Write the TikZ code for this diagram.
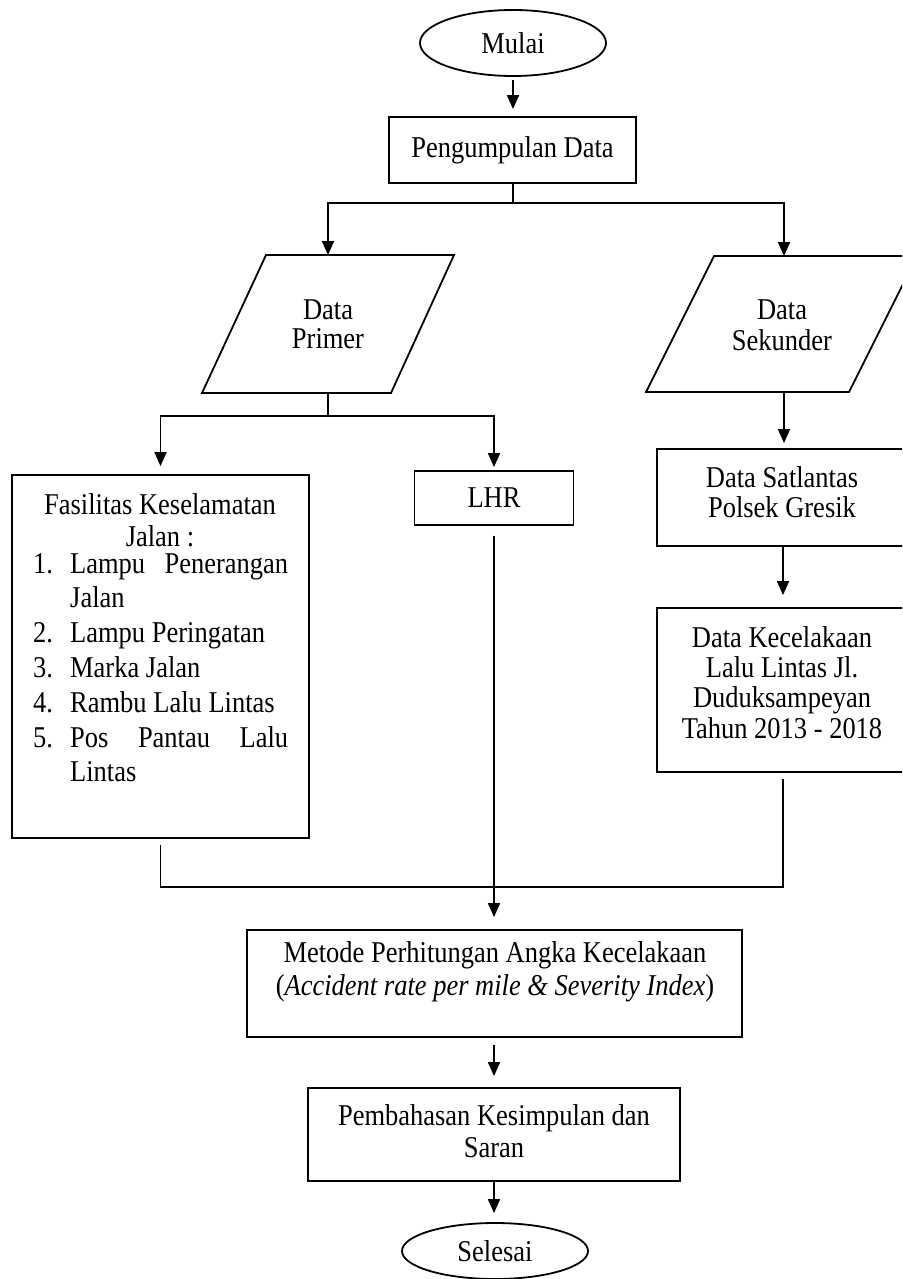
\documentclass[tikz,border=0pt]{standalone}
\usepackage{fontspec}
\setmainfont{Liberation Serif}[FakeStretch=0.877]
\usetikzlibrary{shapes.geometric,arrows.meta}
\begin{document}
\begin{tikzpicture}[x=1pt,y=-1pt,
  every node/.style={font=\fontsize{30.2}{30.5}\selectfont},
  boxnode/.style={draw, rectangle, inner sep=0pt, line width=1.8pt},
  ovalnode/.style={draw, ellipse, inner sep=0pt, line width=1.8pt},
  outline/.style={draw, line width=1.8pt, line join=miter},
  txt/.style={align=center, inner sep=0pt},
  conn/.style={line width=1.8pt},
  arr/.style={conn, -{Triangle[length=14pt,width=12pt]}},
]
\useasboundingbox (0,0) rectangle (902,1279);
\clip (0,0) rectangle (902,1279);

% ---- shapes ----
\node[ovalnode, minimum width=186pt, minimum height=66pt] (mulai) at (513,43) {Mulai};
\node[boxnode, minimum width=247pt, minimum height=66pt] (pd) at (512.5,150) {Pengumpulan Data};

\draw[outline] (266,255) -- (454,255) -- (391,393) -- (202,393) -- cycle;
\coordinate (primTop) at (328,255);
\coordinate (primBot) at (328,393);
\node[txt, font=\fontsize{30.2}{29.5}\selectfont] (primT) at (328,324.5) {Data\\Primer};

\draw[outline] (714,256) -- (917,256) -- (849,392) -- (646,392) -- cycle;
\coordinate (sekTop) at (784,256);
\coordinate (sekBot) at (784,392);
\node[txt, font=\fontsize{30.2}{31}\selectfont] (sekT) at (782,325.5) {Data\\Sekunder};

\node[boxnode, minimum width=297pt, minimum height=363pt] (fas) at (160.5,656.5) {};
\node[txt, font=\fontsize{30.2}{32}\selectfont] (fasH) at (160,520) {Fasilitas Keselamatan\\Jalan :};
\node[anchor=north west, inner sep=0pt, align=left, font=\fontsize{30.2}{34.8}\selectfont] (fasL) at (33,553) {%
\makebox[37pt][l]{1.}\makebox[218pt][s]{Lampu Penerangan}\\
\hspace*{37pt}Jalan\\
\makebox[37pt][l]{2.}Lampu Peringatan\\
\makebox[37pt][l]{3.}Marka Jalan\\
\makebox[37pt][l]{4.}Rambu Lalu Lintas\\
\makebox[37pt][l]{5.}\makebox[218pt][s]{Pos Pantau Lalu}\\
\hspace*{37pt}Lintas};

\node[boxnode, minimum width=159pt, minimum height=54pt] (lhr) at (494,498) {LHR};

\node[boxnode, minimum width=252pt, minimum height=97pt] (sat) at (783,497.5) {};
\node[txt, font=\fontsize{30.2}{30}\selectfont] (satT) at (782,492) {Data Satlantas\\Polsek Gresik};

\node[boxnode, minimum width=252pt, minimum height=164pt] (kec) at (783,690) {};
\node[txt, font=\fontsize{30.2}{30.3}\selectfont] (kecT) at (782,682.5) {Data Kecelakaan\\Lalu Lintas Jl.\\Duduksampeyan\\Tahun 2013 - 2018};

\node[boxnode, minimum width=495pt, minimum height=107pt] (met) at (494.5,983.5) {};
\node[txt, font=\fontsize{30.2}{33}\selectfont] (metT) at (495,971.5) {Metode Perhitungan Angka Kecelakaan\\(\textit{Accident rate per mile \& Severity Index})};

\node[boxnode, minimum width=372pt, minimum height=93pt] (pemb) at (494,1134.5) {};
\node[txt, font=\fontsize{30.2}{32}\selectfont] (pembT) at (494,1131) {Pembahasan Kesimpulan dan\\Saran};

\node[ovalnode, minimum width=186pt, minimum height=56pt] (sel) at (495,1251) {Selesai};

% ---- connectors ----
\draw[arr, shorten <=3pt, shorten >=7pt] (mulai.south) -- (mulai.south |- pd.north);

\coordinate (split1) at (513,203);
\draw[conn] (pd.south -| split1) -- (split1);
\draw[arr] (split1) -| (primTop);
\draw[arr] (split1) -| (sekTop);

\coordinate (split2) at (328,416);
\draw[conn] (primBot) -- (split2);
\draw[arr, shorten >=8pt] (split2) -| (fas.north);
\draw[arr, shorten >=3pt] (split2) -| (lhr.north);

\draw[arr, shorten >=5pt] (sekBot) -- (sekBot |- sat.north);
\draw[arr, shorten >=12pt] (sat.south) -- (kec.north);

\coordinate (merge) at (494,887);
\draw[conn] ([yshift=-6pt]fas.south) |- (merge);
\draw[conn] ([yshift=-6pt]kec.south) |- (merge);
\draw[arr, shorten <=10pt, shorten >=12pt] (lhr.south) -- (lhr.south |- met.north);

\draw[arr, shorten <=7pt, shorten >=11pt] (pemb.north |- met.south) -- (pemb.north);
\draw[arr, shorten >=9pt] (pemb.south) -- (pemb.south |- sel.north);
\end{tikzpicture}
\end{document}
